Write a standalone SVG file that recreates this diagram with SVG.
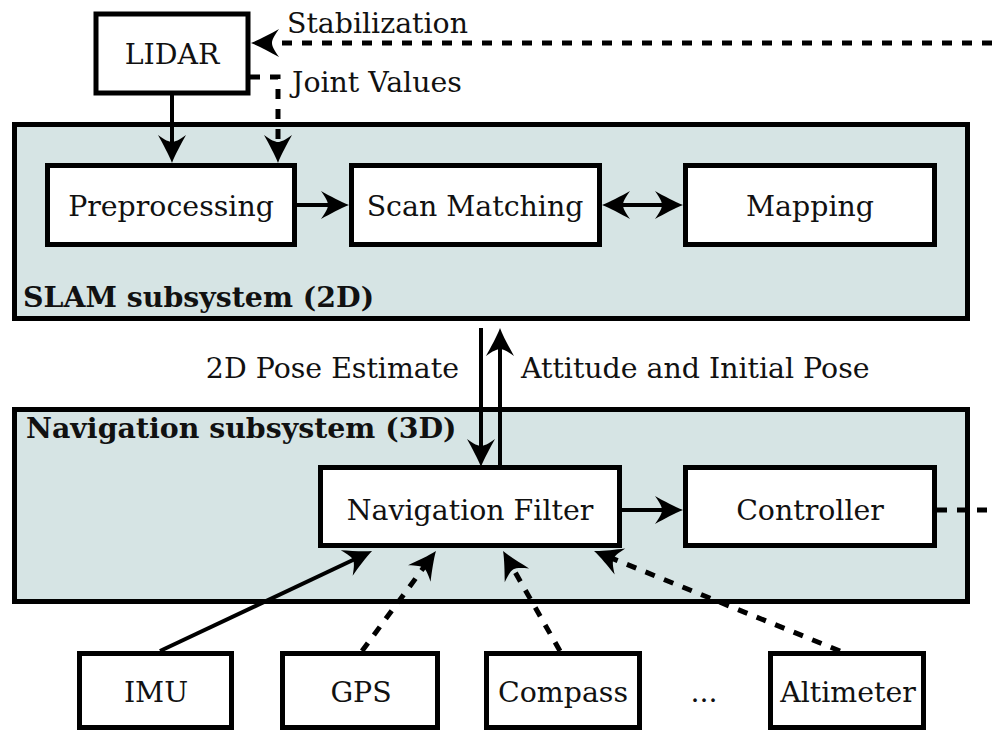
<svg xmlns="http://www.w3.org/2000/svg" width="992" height="732" viewBox="0 0 992 732">
<style>
text{font-family:"DejaVu Serif","Liberation Serif",serif;font-size:28.4px;fill:#111;}
.c{text-anchor:middle;}
.b{font-weight:bold;font-size:28.4px;}
.box{fill:#fff;stroke:#000;stroke-width:5;}
.sub{fill:#d6e4e4;stroke:#000;stroke-width:5;}
.ln{fill:none;stroke:#000;stroke-width:4;}
.dash{stroke-dasharray:10 10;stroke-width:5;}
</style>
<defs>
<marker id="ah" markerUnits="userSpaceOnUse" viewBox="-2 -16 34 32" markerWidth="34" markerHeight="32" refX="18" refY="0" orient="auto-start-reverse">
<path d="M28,0 C20,-3 9,-9 0,-14 C5,-7 7,-3 7,0 C7,3 5,7 0,14 C9,9 20,3 28,0 Z" fill="#000"/>
</marker>
</defs>
<g id="slam">
<rect class="sub" x="14.5" y="124.5" width="953" height="194"/>
<text class="b" x="23" y="307">SLAM subsystem (2D)</text>
</g>
<g id="nav">
<rect class="sub" x="14.5" y="409.5" width="953" height="192"/>
<text class="b" x="26" y="438">Navigation subsystem (3D)</text>
</g>
<g id="lidar"><rect class="box" x="96" y="14" width="152" height="79"/><text class="c" x="172" y="64">LIDAR</text></g>
<g id="preprocessing"><rect class="box" x="47.5" y="165.5" width="247" height="79"/><text class="c" x="171" y="216">Preprocessing</text></g>
<g id="scanmatching"><rect class="box" x="351.5" y="165.5" width="248" height="79"/><text class="c" x="475" y="216">Scan Matching</text></g>
<g id="mapping"><rect class="box" x="685.5" y="165.5" width="249" height="79"/><text class="c" x="810" y="216">Mapping</text></g>
<g id="navfilter"><rect class="box" x="320.5" y="467.5" width="299" height="78"/><text class="c" x="470" y="520">Navigation Filter</text></g>
<g id="controller"><rect class="box" x="685.5" y="467.5" width="249" height="78"/><text class="c" x="810" y="520">Controller</text></g>
<g id="imu"><rect class="box" x="79.5" y="653.5" width="152" height="74"/><text class="c" x="156" y="702">IMU</text></g>
<g id="gps"><rect class="box" x="282.5" y="653.5" width="155" height="74"/><text class="c" x="361" y="702">GPS</text></g>
<g id="compass"><rect class="box" x="486.5" y="653.5" width="153" height="74"/><text class="c" x="563" y="702">Compass</text></g>
<g id="ellipsis"><text class="c" x="704" y="702">...</text></g>
<g id="altimeter"><rect class="box" x="770.5" y="653.5" width="153" height="74"/><text class="c" x="848" y="702">Altimeter</text></g>
<g id="connectors">
<path class="ln" d="M172,95 V153" marker-end="url(#ah)"/>
<path class="ln dash" d="M250,77 H278 V153" marker-end="url(#ah)"/>
<path class="ln dash" d="M992,43 H261" marker-end="url(#ah)"/>
<path class="ln" d="M297,205 H339" marker-end="url(#ah)"/>
<path class="ln" d="M612,205 H673" marker-start="url(#ah)" marker-end="url(#ah)"/>
<path class="ln" d="M481,328 V457" marker-end="url(#ah)"/>
<path class="ln" d="M500,467 V338" marker-end="url(#ah)"/>
<path class="ln" d="M622,510 H673" marker-end="url(#ah)"/>
<path class="ln dash" d="M937,510 H992"/>
<path class="ln" d="M160,651 L363,555.3" marker-end="url(#ah)"/>
<path class="ln dash" d="M362,651 L430,559" marker-end="url(#ah)"/>
<path class="ln dash" d="M560,651 L508,559.7" marker-end="url(#ah)"/>
<path class="ln dash" d="M840,651 L603.3,554.8" marker-end="url(#ah)"/>
<text x="287" y="33">Stabilization</text>
<text x="292" y="92">Joint Values</text>
<text x="459" y="378" text-anchor="end">2D Pose Estimate</text>
<text x="521" y="378">Attitude and Initial Pose</text>
</g>
</svg>
